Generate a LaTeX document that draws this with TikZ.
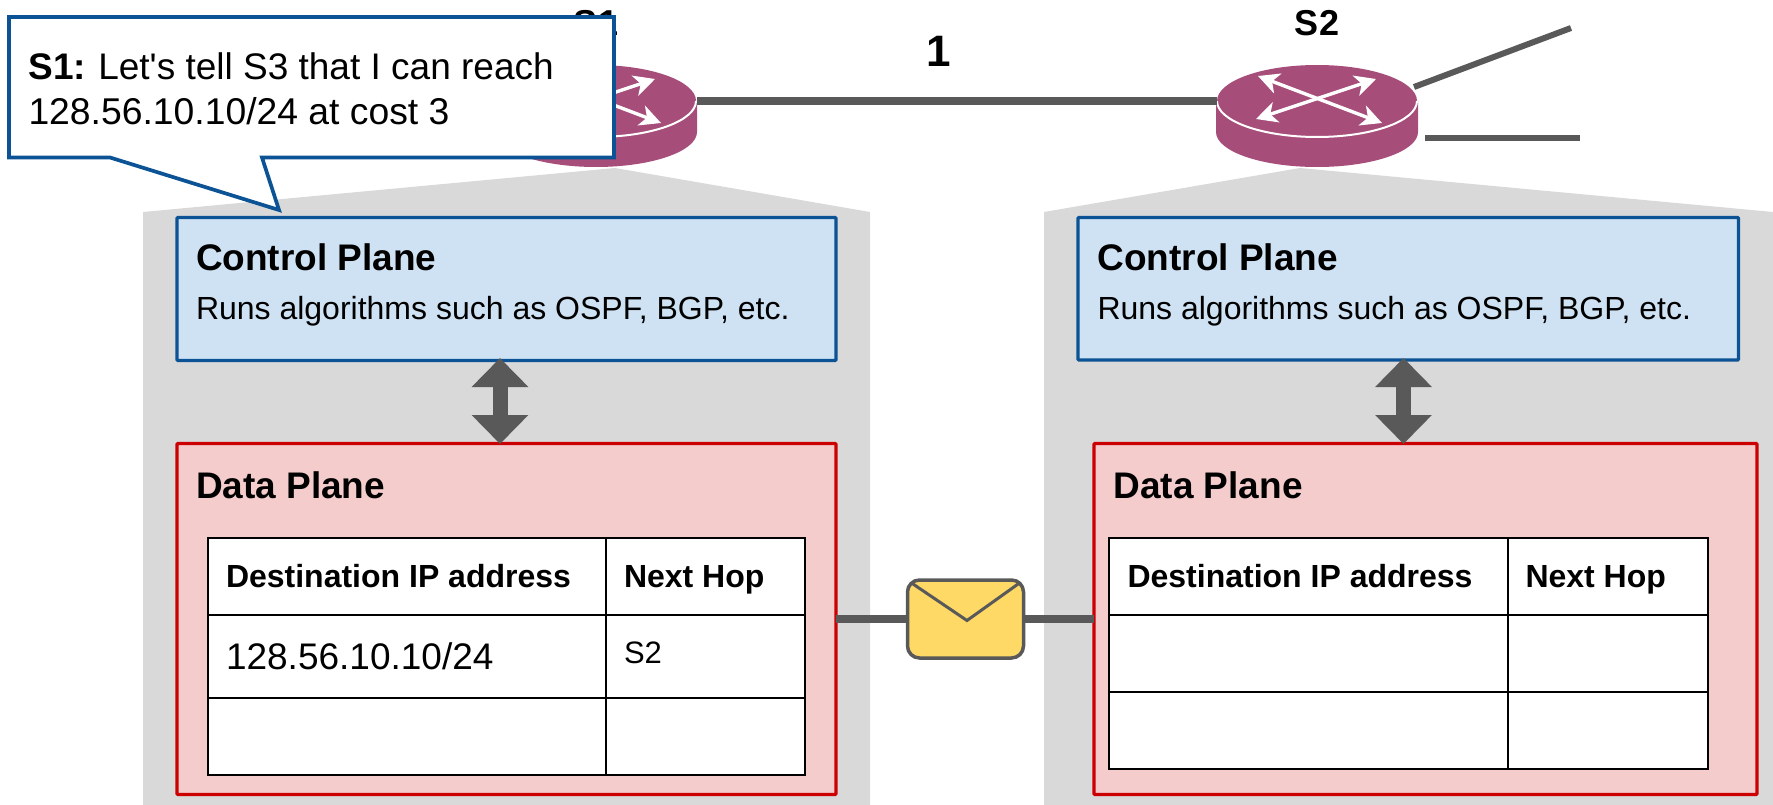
\documentclass[tikz,border=0pt]{standalone}
\usepackage{fontspec}
\setmainfont{Liberation Sans}
\newfontfamily\plainquote{Liberation Sans}
\usetikzlibrary{arrows.meta,calc}
\definecolor{linkgrey}{HTML}{595959}
\definecolor{panelgrey}{HTML}{D9D9D9}
\definecolor{router}{HTML}{A64D79}
\definecolor{cpfill}{HTML}{CFE2F3}
\definecolor{cpline}{HTML}{0B5394}
\definecolor{dpfill}{HTML}{F4CCCC}
\definecolor{dpline}{HTML}{CC0000}
\definecolor{envfill}{HTML}{FFD966}
\newcommand{\fsz}[1]{\fontsize{#1}{#1}\selectfont}
\tikzset{
  x=1pt,y=-1pt,
  box/.style={draw,line width=3.4pt,inner sep=0pt,outer sep=0pt,anchor=north west,rounded corners=1pt},
  cpbox/.style={box,draw=cpline,fill=cpfill},
  dpbox/.style={box,draw=dpline,fill=dpfill},
  cell/.style={draw=black,line width=2pt,fill=white,inner sep=0pt,outer sep=0pt,anchor=north west},
  lab/.style={inner sep=0pt,outer sep=0pt,anchor=base west,text=black},
  head/.style={lab,font=\fsz{37}\bfseries},
  sub/.style={lab,font=\fsz{32}},
  thead/.style={lab,font=\fsz{32}\bfseries},
  link/.style={draw=linkgrey,line width=7.5pt},
  thinlink/.style={draw=linkgrey,line width=6pt},
  duplex/.style={draw=linkgrey,line width=15pt,{Triangle[length=29pt,width=55pt]}-{Triangle[length=29pt,width=55pt]}},
  whitearrow/.style={draw=white,line width=3.4pt,{Stealth[length=21pt,width=21pt,inset=6pt]}-{Stealth[length=21pt,width=21pt,inset=6pt]}},
}
% router at centre x
\newcommand{\routerat}[2]{%
  \begin{scope}[shift={(#1,0)}]
    \fill[router] (-101,101) -- (-101,132) arc[start angle=180,end angle=0,x radius=101,y radius=35] -- (101,101) -- cycle;
    \fill[router] (0,101) ellipse[x radius=100,y radius=36];
    \draw[white,line width=2pt] (-100,101) arc[start angle=180,end angle=0,x radius=100,y radius=36];
    \draw[whitearrow] (-59,76) -- (65,123);
    \draw[whitearrow] (-61,119) -- (59,79);
    \node[inner sep=0pt,font=\fsz{36}\bfseries] (#2) at (0,23) {#2};
  \end{scope}}
\begin{document}
\begin{tikzpicture}
\useasboundingbox (0,0) rectangle (1773,805);
% grey panels
\fill[panelgrey] (143,805) -- (143,212) -- (615,168) -- (870,212) -- (870,805) -- cycle;
\fill[panelgrey] (1044,805) -- (1044,212) -- (1300,168) -- (1773,212) -- (1773,805) -- cycle;
% routers
\routerat{596}{S1}
\routerat{1317}{S2}
\coordinate (s1e) at (697,101);
\coordinate (s2w) at (1217,101);
\draw[link] (s1e) -- (s2w);
\coordinate (s2a) at (1414,87);
\coordinate (s2b) at (1571,28);
\coordinate (s2c) at (1425,138);
\coordinate (s2d) at (1580,138);
\draw[thinlink] (s2a) -- (s2b);
\draw[thinlink] (s2c) -- (s2d);
\node[inner sep=0pt,font=\fsz{44}\bfseries] (cost) at (939,51) {1};
% left switch
\node[cpbox,minimum width=659pt,minimum height=143pt] (cpL) at (177,217.5) {};
\node[dpbox,minimum width=659pt,minimum height=351pt] (dpL) at (177,443.5) {};
\coordinate (aLt) at (500,358);
\coordinate (aLb) at (500,444);
\draw[duplex] (aLt) -- (aLb);
\node[head] (cpLt) at (196,271) {Control Plane};
\node[sub] (cpLs) at (196,319) {Runs algorithms such as OSPF, BGP, etc.};
\node[head] (dpLt) at (196,498) {Data Plane};
\node[cell,minimum width=398pt,minimum height=77pt] (L1a) at (207.5,537.5) {};
\node[cell,minimum width=199.5pt,minimum height=77pt] (L1b) at (605.5,537.5) {};
\node[cell,minimum width=398pt,minimum height=83pt] (L2a) at (207.5,614.5) {};
\node[cell,minimum width=199.5pt,minimum height=83pt] (L2b) at (605.5,614.5) {};
\node[cell,minimum width=398pt,minimum height=77pt] (L3a) at (207.5,697.5) {};
\node[cell,minimum width=199.5pt,minimum height=77pt] (L3b) at (605.5,697.5) {};
\node[thead] (L1at) at (226,587) {Destination IP address};
\node[thead] (L1bt) at (624,587) {Next Hop};
\node[lab,font=\fsz{37}] (L2at) at (226,669) {128.56.10.10/24};
\node[lab,font=\fsz{31}] (L2bt) at (624,663) {S2};
% right switch
\node[cpbox,minimum width=660.5pt,minimum height=142.5pt] (cpR) at (1078,217.5) {};
\node[dpbox,minimum width=663pt,minimum height=351pt] (dpR) at (1094,443.5) {};
\coordinate (aRt) at (1403.5,358);
\coordinate (aRb) at (1403.5,444);
\draw[duplex] (aRt) -- (aRb);
\node[head] (cpRt) at (1097.5,271) {Control Plane};
\node[sub] (cpRs) at (1097.5,319) {Runs algorithms such as OSPF, BGP, etc.};
\node[head] (dpRt) at (1113.5,498) {Data Plane};
\node[cell,minimum width=398.5pt,minimum height=77pt] (R1a) at (1109,537.5) {};
\node[cell,minimum width=200.5pt,minimum height=77pt] (R1b) at (1507.5,537.5) {};
\node[cell,minimum width=398.5pt,minimum height=77pt] (R2a) at (1109,614.5) {};
\node[cell,minimum width=200.5pt,minimum height=77pt] (R2b) at (1507.5,614.5) {};
\node[cell,minimum width=398.5pt,minimum height=77pt] (R3a) at (1109,691.5) {};
\node[cell,minimum width=200.5pt,minimum height=77pt] (R3b) at (1507.5,691.5) {};
\node[thead] (R1at) at (1127.5,587) {Destination IP address};
\node[thead] (R1bt) at (1525.5,587) {Next Hop};
% envelope
\node[draw=linkgrey,fill=envfill,line width=3.5pt,rounded corners=12pt,inner sep=0pt,outer sep=0pt,minimum width=116pt,minimum height=78pt] (env) at (965.5,619) {};
\draw[draw=linkgrey,line width=3pt,line join=miter] ($(env.north west)+(4,3)$) -- (967,620.5) -- ($(env.north east)+(-4,3)$);
\draw[link] (dpL.east |- env) -- (env.west);
\draw[link] (env.east) -- (dpR.west |- env);
% callout
\draw[draw=cpline,fill=white,line width=3.7pt,line join=miter] (9,17) -- (614,17) -- (614,157.5) -- (262,157.5) -- (279,210) -- (110,157.5) -- (9,157.5) -- cycle;
\node[lab,font=\fsz{37}\plainquote] (calloutA) at (28.5,79.5) {\textbf{S1:}\hspace{-1.5pt} Let's tell S3 that I can reach};
\node[lab,font=\fsz{37.3}\plainquote] (calloutB) at (28.5,125) {128.56.10.10/24 at cost 3};
\end{tikzpicture}
\end{document}
